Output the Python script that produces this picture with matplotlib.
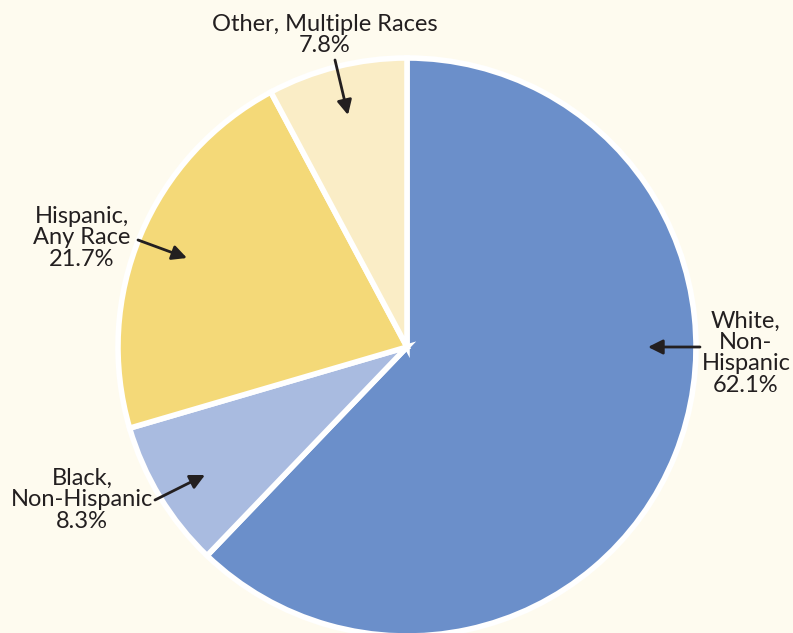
import matplotlib.pyplot as plt

labels = ["White,\nNon-\nHispanic\n62.1%", "Black,\nNon-Hispanic\n8.3%",
          "Hispanic,\nAny Race\n21.7%", "Other, Multiple Races\n7.8%"]
shares = [62.1, 8.3, 21.7, 7.8]
colors = ["#6b8fca", "#a9bbe0", "#f4d978", "#faedc6"]
# label text position, arrow tail, arrow head (pixels, y up)
text_pos = [(746, 280), (82, 133), (82, 395), (325, 598)]
tails = [(700, 286), (155, 133), (138, 393), (335, 573)]
heads = [(648, 286), (205, 158), (187, 375), (348, 518)]

bg = "#fefbef"
fig = plt.figure(figsize=(7.93, 6.33), dpi=100, facecolor=bg)
ax = fig.add_axes([0, 0, 1, 1])
ax.set_facecolor(bg)

ax.pie(shares, colors=colors, startangle=90, counterclock=False,
       center=(407, 286), radius=289,
       wedgeprops=dict(edgecolor="white", linewidth=4), frame=True)
ax.set_xlim(0, 793)
ax.set_ylim(0, 633)
ax.axis("off")

for lab, tp, t, h in zip(labels, text_pos, tails, heads):
    ax.text(tp[0], tp[1], lab, ha="center", va="center", fontsize=17,
            family="Lato", color="#231f20", linespacing=1.02)
    ax.annotate("", xy=h, xytext=t,
                arrowprops=dict(arrowstyle="-|>", color="#231f20", lw=2,
                                mutation_scale=22, shrinkA=0, shrinkB=0))

fig.savefig("out.png", dpi=100, facecolor=bg)
